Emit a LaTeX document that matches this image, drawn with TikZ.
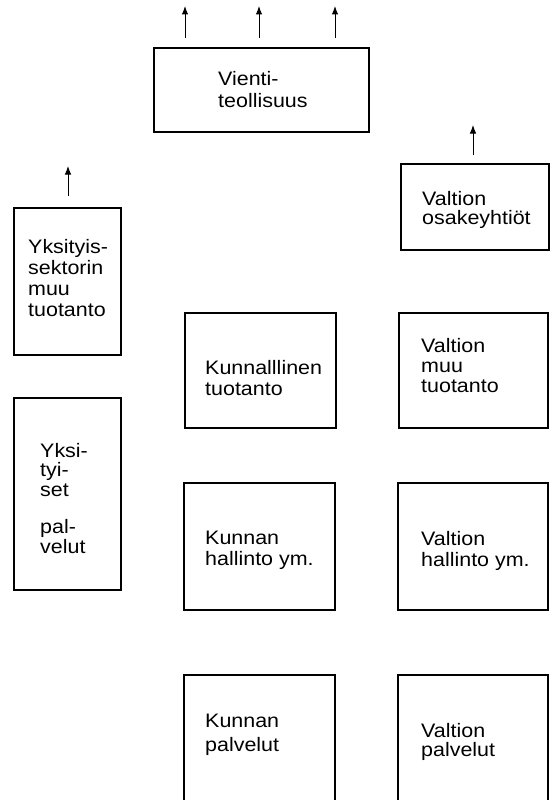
\documentclass[tikz,border=0pt]{standalone}
\usepackage{fontspec}
\setmainfont{Liberation Sans}[FakeStretch=1.1]
\usetikzlibrary{arrows.meta}
\tikzset{
  box/.style={draw, line width=1.2pt, inner sep=0pt},
  lbl/.style={anchor=north west, inner sep=0pt, align=left,
    font=\fontsize{19.5}{21}\selectfont},
  up/.style={line width=1pt, -{Latex[length=8.5pt,width=6.5pt]}}
}
\begin{document}
\begin{tikzpicture}[x=1pt, y=-1pt]
\useasboundingbox (0,0) rectangle (552,800);
\clip (0,0) rectangle (552,800);
% boxes
\node[box, minimum width=215pt, minimum height=84pt]  (vienti) at (261.5,90) {};
\node[box, minimum width=107pt, minimum height=147pt] (ymuu)   at (67.5,281.5) {};
\node[box, minimum width=107pt, minimum height=192pt] (ypalv)  at (67.5,494) {};
\node[box, minimum width=148pt, minimum height=86pt]  (vosake) at (475,207) {};
\node[box, minimum width=151pt, minimum height=115pt] (ktuot)  at (260.5,370.5) {};
\node[box, minimum width=149pt, minimum height=115pt] (vmuu)   at (473.5,370.5) {};
\node[box, minimum width=151pt, minimum height=127pt] (khall)  at (259.5,546.5) {};
\node[box, minimum width=150pt, minimum height=127pt] (vhall)  at (473,546.5) {};
\node[box, minimum width=151pt, minimum height=140pt] (kpalv)  at (259.5,745) {};
\node[box, minimum width=150pt, minimum height=140pt] (vpalv)  at (473,745) {};
% texts
\node[lbl] (vientiT) at (218,71) {Vienti-\\[1pt]teollisuus};
\node[lbl] (ymuuT)   at (28,239) {Yksityis-\\sektorin\\muu\\tuotanto};
\node[lbl, font=\fontsize{19.5}{19.5}\selectfont] (ypalvT) at (40,443) {Yksi-\\tyi-\\set\\[18pt]pal-\\velut};
\node[lbl, font=\fontsize{19.5}{19}\selectfont] (vosakeT) at (422,191) {Valtion\\osakeyhtiöt};
\node[lbl] (ktuotT)  at (205,360) {Kunnalllinen\\tuotanto};
\node[lbl, font=\fontsize{19.5}{20}\selectfont] (vmuuT) at (421,338) {Valtion\\muu\\tuotanto};
\node[lbl] (khallT)  at (205,531) {Kunnan\\hallinto ym.};
\node[lbl] (vhallT)  at (421,531) {Valtion\\hallinto ym.};
\node[lbl, font=\fontsize{19.5}{24}\selectfont] (kpalvT) at (205,714) {Kunnan\\palvelut};
\node[lbl, font=\fontsize{19.5}{19}\selectfont] (vpalvT) at (421,723) {Valtion\\palvelut};
% arrows
\coordinate (a1s) at (185,38);  \coordinate (a1e) at (185,6);
\coordinate (a2s) at (259,38);  \coordinate (a2e) at (259,6);
\coordinate (a3s) at (335,38);  \coordinate (a3e) at (335,6);
\coordinate (a4s) at (68,196);  \coordinate (a4e) at (68,166);
\coordinate (a5s) at (473,155); \coordinate (a5e) at (473,125);
\draw[up] (a1s) -- (a1e);
\draw[up] (a2s) -- (a2e);
\draw[up] (a3s) -- (a3e);
\draw[up] (a4s) -- (a4e);
\draw[up] (a5s) -- (a5e);
\end{tikzpicture}
\end{document}
